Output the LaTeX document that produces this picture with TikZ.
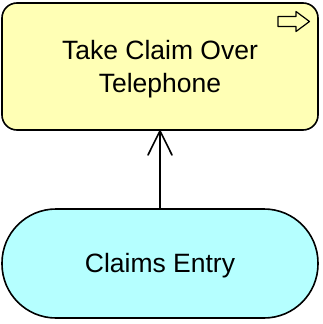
\documentclass[tikz,border=0pt]{standalone}
\usepackage{fontspec}
\setmainfont{Liberation Sans}
\usetikzlibrary{positioning}
\definecolor{bizyellow}{HTML}{FFFFB5}
\definecolor{appcyan}{HTML}{B5FFFF}
\begin{document}
\begin{tikzpicture}[x=1pt, y=-1pt, line join=round, line cap=round, font=\fontsize{26.5}{33}\selectfont]
				\useasboundingbox (0,0) rectangle (323,324);
				\tikzset{
					procbox/.style={draw=black, line width=1.6pt, fill=bizyellow, rounded corners=15pt, minimum width=316pt, minimum height=127pt, inner sep=0pt},
					servbox/.style={draw=black, line width=1.6pt, fill=appcyan, rounded corners=54pt, minimum width=316pt, minimum height=109pt, inner sep=0pt},
					serving/.style={draw=black, line width=1.6pt},
					caption/.style={align=center, inner sep=0pt}
				}
				\node[procbox] (P) at (160,66.5) {};
				\node[servbox] (S) at (160,263.5) {};
				\node[caption] (Ptext) at ([yshift=-3pt]P.center) {Take Claim Over\\Telephone};
				\node[caption] (Stext) at ([yshift=-2.5pt]S.center) {Claims Entry};
				% serving relation
				\draw[serving] (S.north) -- (P.south);
				\draw[serving] (148,155) -- (P.south) -- (172,155);
				% process icon
				\draw[line width=1.2pt] (278,16.5) -- (296,16.5) -- (296,11.5) -- (309.5,21.5) -- (296,31.5) -- (296,26.5) -- (278,26.5) -- cycle;
			\end{tikzpicture}
\end{document}
